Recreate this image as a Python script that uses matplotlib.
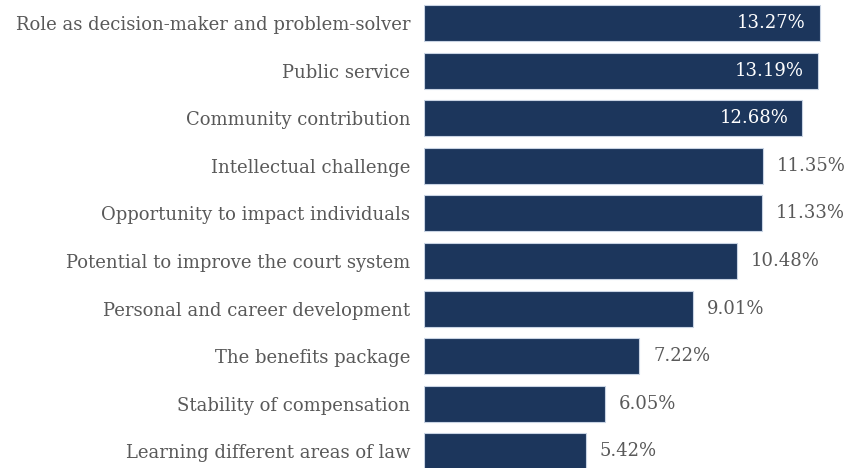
import matplotlib
matplotlib.use('Agg')
import matplotlib.pyplot as plt

categories = ['Role as decision-maker and problem-solver', 'Public service',
              'Community contribution', 'Intellectual challenge',
              'Opportunity to impact individuals', 'Potential to improve the court system',
              'Personal and career development', 'The benefits package',
              'Stability of compensation', 'Learning different areas of law']
values = [13.27, 13.19, 12.68, 11.35, 11.33, 10.48, 9.01, 7.22, 6.05, 5.42]

bar_col = '#1c365c'
txt_col = '#595959'
plt.rcParams['font.family'] = ['DejaVu Serif']

fig = plt.figure(figsize=(8.49, 4.68), dpi=100)
ax = fig.add_axes([424 / 849, 0, 425 / 849, 1])

n = len(categories)
ypos = [n - 1 - i for i in range(n)]
ax.barh(ypos, values, height=0.76, color=bar_col, edgecolor='#c8d3e3', linewidth=0.8)

for y, v in zip(ypos, values):
    if v > 12:
        ax.text(v - 0.47, y, f'{v:.2f}%', color='white', fontsize=13,
                ha='right', va='center')
    else:
        ax.text(v + 0.47, y, f'{v:.2f}%', color=txt_col, fontsize=13,
                ha='left', va='center')

ax.set_yticks(ypos)
ax.set_yticklabels(categories, fontsize=13, color=txt_col)
ax.tick_params(axis='y', length=0, pad=10)
ax.set_xticks([])
ax.set_xlim(0, 425 / 29.84)
ax.set_ylim(-0.349, 9.483)
for s in ax.spines.values():
    s.set_visible(False)

fig.savefig('out.png', dpi=100)
